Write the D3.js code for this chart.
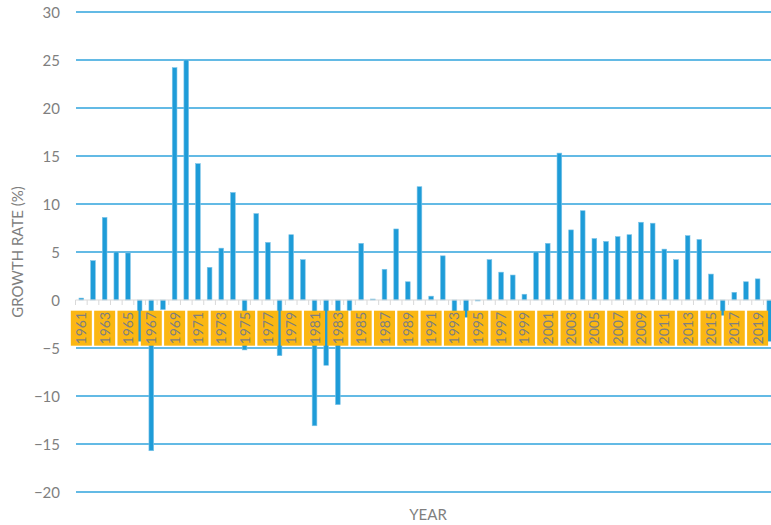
<!DOCTYPE html>
<html>
<head>
<meta charset="utf-8">
<script src="https://cdn.jsdelivr.net/npm/d3@7/dist/d3.min.js"></script>
<style>
  html, body { margin: 0; padding: 0; background: #ffffff; overflow: hidden; }
  svg { display: block; }
  text { font-family: Lato, "Open Sans", sans-serif; }
</style>
</head>
<body>
<svg id="chart" width="771" height="525"></svg>
<script>
// ---- data ----
const years = d3.range(1961, 2021);
const growth = [
  0.2, 4.1, 8.6, 5.0, 4.9, -4.3, -15.7, -1.0, 24.2, 25.0,
  14.2, 3.4, 5.4, 11.2, -5.2, 9.0, 6.0, -5.8, 6.8, 4.2,
  -13.1, -6.8, -10.9, -1.1, 5.9, 0.1, 3.2, 7.4, 1.9, 11.8,
  0.4, 4.6, -2.0, -1.8, -0.1, 4.2, 2.9, 2.6, 0.6, 5.0,
  5.9, 15.3, 7.3, 9.3, 6.4, 6.1, 6.6, 6.8, 8.1, 8.0,
  5.3, 4.2, 6.7, 6.3, 2.7, -1.6, 0.8, 1.9, 2.2, -4.3
];
const yTicks = [30, 25, 20, 15, 10, 5, 0, -5, -10, -15, -20];
const labelYears = years.filter((y, i) => i % 2 === 0);
const yTitle = "GROWTH RATE (%)";
const xTitle = "YEAR";

// ---- layout ----
const svg = d3.select("#chart");
const x0 = 75.5, band = 11.66;
const x = d3.scaleBand().domain(years).range([x0, x0 + band * years.length]).padding(0);
const y = d3.scaleLinear().domain([-20, 30]).range([492, 12]);
const barW = 4.7;
const blue = "#1e9cd8";
const orange = "#fbb713";
const grey = "#7f7f7f";

// gridlines
svg.append("g").selectAll("line")
  .data(yTicks.filter(d => d !== 0))
  .join("line")
  .attr("x1", 76).attr("x2", 775)
  .attr("y1", d => y(d)).attr("y2", d => y(d))
  .attr("stroke", "#2fa3dc").attr("stroke-width", 1.4);

// y-axis tick labels
const yAxis = d3.axisLeft(y).tickValues(yTicks).tickSize(0).tickPadding(0)
  .tickFormat(d => d < 0 ? "\u2212" + Math.abs(d) : String(d));
const gy = svg.append("g").attr("transform", "translate(60,0)").call(yAxis);
gy.select(".domain").remove();
gy.selectAll("text").attr("fill", grey).attr("font-size", 15)
  .attr("font-family", "Lato, sans-serif").attr("dy", "0.35em");

// bars
svg.append("g").selectAll("rect")
  .data(years.map((yr, i) => ({ yr, v: growth[i] })))
  .join("rect")
  .attr("x", d => x(d.yr) + x.bandwidth() / 2 - barW / 2)
  .attr("width", barW)
  .attr("y", d => Math.min(y(d.v), y(0)))
  .attr("height", d => Math.max(0.6, Math.abs(y(d.v) - y(0))))
  .attr("fill", blue)
  .attr("stroke", "#7cc4e8").attr("stroke-width", 0.6);

// zero axis line with ticks
svg.append("line")
  .attr("x1", x0).attr("x2", 775)
  .attr("y1", y(0)).attr("y2", y(0))
  .attr("stroke", "#d9d9d9").attr("stroke-width", 1);
svg.append("g").selectAll("line")
  .data(d3.range(years.length + 1))
  .join("line")
  .attr("x1", i => x0 + i * band).attr("x2", i => x0 + i * band)
  .attr("y1", y(0)).attr("y2", y(0) + 5)
  .attr("stroke", "#d9d9d9").attr("stroke-width", 1);

// label boxes
const boxW = 21, boxTop = 310.7, boxH = 35;
const lab = svg.append("g").selectAll("g")
  .data(labelYears)
  .join("g")
  .attr("transform", d => `translate(${x(d) + x.bandwidth() / 2},0)`);
lab.append("rect")
  .attr("x", -boxW / 2).attr("width", boxW)
  .attr("y", boxTop).attr("height", boxH)
  .attr("fill", orange);
lab.append("text")
  .attr("transform", `translate(0,${boxTop + boxH / 2}) rotate(-90)`)
  .attr("text-anchor", "middle").attr("dy", "0.36em")
  .attr("font-size", 14).attr("fill", grey)
  .text(d => d);

// axis titles
svg.append("text")
  .attr("transform", "translate(18,252) rotate(-90)")
  .attr("text-anchor", "middle").attr("dy", "0.35em")
  .attr("font-size", 15).attr("fill", grey)
  .text(yTitle);
svg.append("text")
  .attr("x", 428).attr("y", 520)
  .attr("text-anchor", "middle")
  .attr("font-size", 15).attr("fill", grey)
  .text(xTitle);
</script>
</body>
</html>
